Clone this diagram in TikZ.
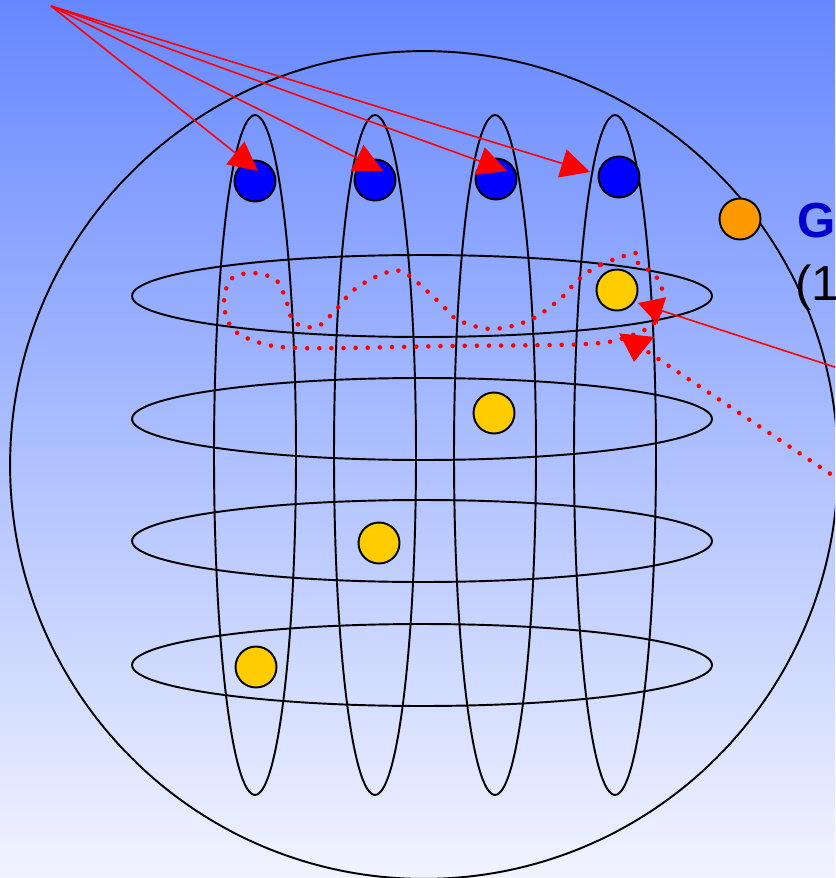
\documentclass[tikz,border=0pt]{standalone}
\usepackage{fontspec}
\setmainfont{Liberation Sans}
\usetikzlibrary{arrows.meta,positioning,shapes.geometric}
\definecolor{bgtop}{RGB}{102,136,255}
\definecolor{bgbot}{RGB}{241,244,255}
\definecolor{dotblue}{RGB}{0,0,255}
\definecolor{dotyellow}{RGB}{255,204,0}
\definecolor{dotorange}{RGB}{255,153,0}
\definecolor{labelblue}{RGB}{0,0,204}
\tikzset{ring/.style={draw=black,line width=1.1pt},
  dot/.style={circle,draw=black,line width=1.1pt,minimum size=0.82cm,inner sep=0pt},
  bluedot/.style={dot,fill=dotblue},
  yellowdot/.style={dot,fill=dotyellow},
  orangedot/.style={dot,fill=dotorange},
  redarr/.style={red,line width=0.9pt,-{Triangle[length=0.58cm,width=0.58cm]}},
  reddots/.style={red,line width=2.6pt,line cap=round,dash pattern=on 0pt off 6.9pt},
  biglabel/.style={inner sep=0pt,font=\fontsize{28}{32}\selectfont}}

\begin{document}
\begin{tikzpicture}[x=0.02cm,y=-0.02cm]
\useasboundingbox (0,0) rectangle (835,878);
\clip (0,0) rectangle (835,878);
\shade[top color=bgtop,bottom color=bgbot] (0,0) rectangle (835,878);
% outer set
\draw[ring] (424,465) circle [radius=8.28cm];
% columns
\draw[ring] (255,455) ellipse [x radius=0.82cm,y radius=6.8cm];
\draw[ring] (375,455) ellipse [x radius=0.82cm,y radius=6.8cm];
\draw[ring] (495,455) ellipse [x radius=0.82cm,y radius=6.8cm];
\draw[ring] (615,455) ellipse [x radius=0.82cm,y radius=6.8cm];
% rows
\draw[ring] (422,296) ellipse [x radius=5.8cm,y radius=0.82cm];
\draw[ring] (422,419) ellipse [x radius=5.8cm,y radius=0.82cm];
\draw[ring] (422,541) ellipse [x radius=5.8cm,y radius=0.82cm];
\draw[ring] (422,665) ellipse [x radius=5.8cm,y radius=0.82cm];
% points
\node[bluedot] (b1) at (255,181) {};
\node[bluedot] (b2) at (375,180) {};
\node[bluedot] (b3) at (496,179) {};
\node[bluedot] (b4) at (619,177) {};
\node[yellowdot] (y1) at (617,290) {};
\node[yellowdot] (y2) at (494,413) {};
\node[yellowdot] (y3) at (379,543) {};
\node[yellowdot] (y4) at (256,667) {};
\node[orangedot] (o1) at (740,219) {};
% labels
\node[biglabel,anchor=base west,text=labelblue,font=\bfseries\fontsize{28}{32}\selectfont] (gl) at (797,238) {G};
\node[biglabel,anchor=base west] (nl) at (795,300) {(1};
% wandering path
\draw[reddots] plot[smooth cycle,tension=0.55] coordinates {(636,253) (600,265) (578,280) (560,299) (530,320) (492,329) (458,320) (440,303) (405,273) (385,273) (355,289) (333,313) (316,327) (294,322) (286,300) (276,280) (253,273) (231,279) (224,302) (230,325) (249,339) (297,348) (450,346) (587,344) (630,336) (655,322) (663,295) (655,275) (638,263)};
% arrows
\coordinate (src) at (51,6);
\coordinate (t1) at (258,171);
\coordinate (t2) at (383,171);
\coordinate (t3) at (507,171);
\coordinate (t4) at (590,172);
\draw[redarr] (src) -- (t1);
\draw[redarr] (src) -- (t2);
\draw[redarr] (src) -- (t3);
\draw[redarr] (src) -- (t4);
\coordinate (rin) at (850,372);
\coordinate (ty1) at (638,303);
\draw[red,line width=0.9pt,-{Triangle[length=0.5cm,width=0.56cm]}] (rin) -- (ty1);
\coordinate (din) at (850,487);
\coordinate (tl) at (634,362);
\draw[reddots,-{Triangle[length=0.54cm,width=0.68cm]}] (din) -- (648,352) .. controls (636,342) .. (tl);
\end{tikzpicture}
\end{document}
